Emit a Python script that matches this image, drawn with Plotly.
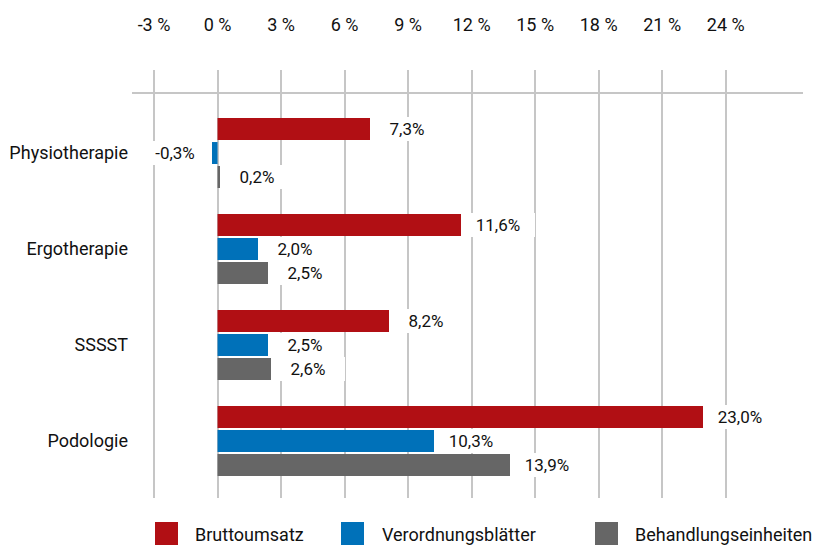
import plotly.graph_objects as go

categories = ["Physiotherapie", "Ergotherapie", "SSSST", "Podologie"]
series_names = ["Bruttoumsatz", "Verordnungsblätter", "Behandlungseinheiten"]
bruttoumsatz = [7.3, 11.6, 8.2, 23.0]
verordnungsblaetter = [-0.3, 2.0, 2.5, 10.3]
behandlungseinheiten = [0.2, 2.5, 2.6, 13.9]
tick_vals = [-3, 0, 3, 6, 9, 12, 15, 18, 21, 24]
tick_text = ["-3 %", "0 %", "3 %", "6 %", "9 %", "12 %", "15 %", "18 %", "21 %", "24 %"]

series_values = [bruttoumsatz, verordnungsblaetter, behandlungseinheiten]
colors = ["#B10F14", "#0071B9", "#666666"]

W, H = 821, 549
ML, MR, MT, MB = 132, 18, 70, 51
PW, PH = W - ML - MR, H - MT - MB
FONT = "Roboto"
TXT = "#111111"
GRID = "#c6c6c6"


def px_x(px):
    return (px - ML) / PW


def px_y(py):
    return (H - MB - py) / PH


def fmt(v):
    return f"{v:.1f}".replace(".", ",") + "%"


fig = go.Figure()
for name, vals, col in zip(series_names, series_values, colors):
    fig.add_trace(go.Bar(
        y=categories, x=vals, name=name, orientation="h",
        marker=dict(color=col, line=dict(width=0)),
        showlegend=False, hoverinfo="skip",
    ))

annotations = []
slot_px = 24
for k, vals in enumerate(series_values):
    for cat, v in zip(categories, vals):
        annotations.append(dict(
            x=v, y=cat, xref="x", yref="y",
            text=fmt(v), showarrow=False,
            xanchor="center", yanchor="middle",
            xshift=35 if v >= 0 else -36,
            yshift=-(k - 1) * slot_px,
            bgcolor="white", borderpad=2, borderwidth=0, width=70, height=20,
            align="center",
            font=dict(family=FONT, size=17, color=TXT),
        ))

# custom legend
legend_items = [(155, 193), (341, 380), (595, 633)]
shapes = []
for (sx, tx), name, col in zip(legend_items, series_names, colors):
    shapes.append(dict(
        type="rect", xref="paper", yref="paper",
        x0=px_x(sx), x1=px_x(sx + 23), y0=px_y(545), y1=px_y(522),
        fillcolor=col, line=dict(width=0),
    ))
    annotations.append(dict(
        x=px_x(tx), y=px_y(534), xref="paper", yref="paper",
        text=name, showarrow=False, xanchor="left", yanchor="middle",
        font=dict(family=FONT, size=18, color=TXT),
    ))

# horizontal rule near the top of the plot
shapes.append(dict(
    type="line", xref="paper", yref="y",
    x0=0, x1=1, y0=-0.625, y1=-0.625,
    line=dict(color=GRID, width=2), layer="below",
))

fig.update_layout(
    width=W, height=H,
    margin=dict(l=ML, r=MR, t=MT, b=MB, pad=0),
    paper_bgcolor="white", plot_bgcolor="white",
    barmode="group", bargap=0.25, bargroupgap=0.083,
    font=dict(family=FONT, size=17, color=TXT),
    xaxis=dict(
        side="top", range=[-4.04, 27.65],
        tickvals=tick_vals, ticktext=tick_text,
        ticks="outside", ticklen=31, tickcolor="white",
        showgrid=True, gridcolor=GRID, gridwidth=2,
        zeroline=True, zerolinecolor=GRID, zerolinewidth=2,
        showline=False, fixedrange=True, automargin=False,
        tickfont=dict(family=FONT, size=18, color=TXT),
    ),
    yaxis=dict(
        type="category", range=[3.594, -0.865],
        showgrid=False, zeroline=False, showline=False,
        ticks="", ticklabelstandoff=3, automargin=False,
        tickfont=dict(family=FONT, size=18, color=TXT),
        fixedrange=True,
    ),
    annotations=annotations,
    shapes=shapes,
)

fig.write_html(
    "out.html",
    config={"displayModeBar": False},
    post_script="document.body.style.margin='0px';document.body.style.padding='0px';",
)
